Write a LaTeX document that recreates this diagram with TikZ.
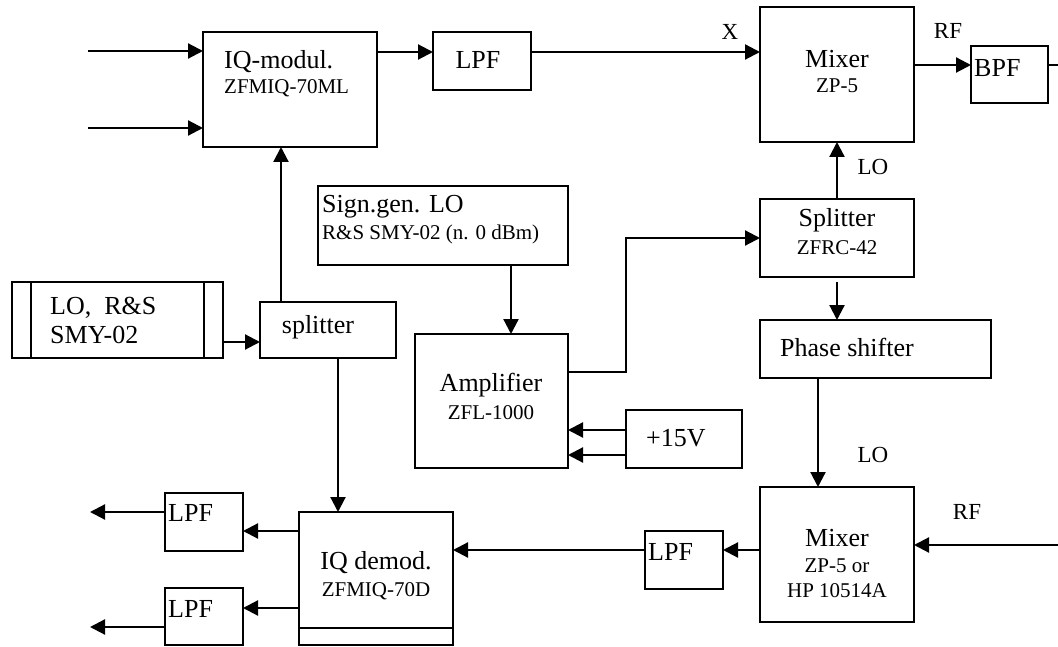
\documentclass[tikz,border=0pt]{standalone}
\usepackage{fontspec}
\setmainfont{Liberation Serif}
\usetikzlibrary{arrows.meta,calc}
\tikzset{
  box/.style={draw,line width=2.2pt,inner sep=0pt,outer sep=0pt},
  arr/.style={line width=2.2pt,-{Triangle[length=15pt,width=15pt]}},
  ln/.style={line width=2.2pt},
  big/.style={font=\fontsize{26}{28}\selectfont,inner sep=0pt},
  lbl/.style={font=\fontsize{23}{25}\selectfont,inner sep=0pt},
  mid/.style={font=\fontsize{21}{23}\selectfont,inner sep=0pt},
}
\newcommand\mybox[5]{\node[box,minimum width={#4-#2},minimum height={#5-#3}] (#1) at ({(#2+#4)/2},{(#3+#5)/2}) {};}
\begin{document}
\begin{tikzpicture}[x=1pt,y=-1pt]
\useasboundingbox (0,0) rectangle (1058,647);
% boxes
\mybox{iqm}{203}{32}{377}{147}
\mybox{lpfa}{433}{32}{531}{90}
\mybox{mixa}{760}{7}{914}{142}
\mybox{bpf}{971}{46}{1048}{103}
\mybox{sig}{318}{186}{568}{265}
\mybox{amp}{415}{334}{568}{468}
\mybox{vps}{626}{410}{742}{468}
\mybox{splb}{760}{199}{914}{277}
\mybox{ph}{760}{320}{991}{378}
\mybox{mixb}{760}{487}{914}{622}
\mybox{lpfc}{645}{531}{723}{589}
\mybox{dem}{299}{512}{453}{645}
\mybox{lpfd}{165}{493}{243}{551}
\mybox{lpfe}{165}{588}{243}{645}
\mybox{lo}{12}{282}{223}{358}
\mybox{spla}{260}{302}{396}{358}
% inner lines
\draw[ln] (lo.north west) ++(19,0) coordinate (loa) -- (loa |- lo.south);
\draw[ln] (lo.north east) ++(-19,0) coordinate (lob) -- (lob |- lo.south);
\draw[ln] (dem.south west) ++(0,-17) coordinate (dma) -- (dma -| dem.east);
% texts
\node[big,anchor=west] at (224,62) {IQ-modul.};
\node[mid,anchor=west] at (224,88) {ZFMIQ-70ML};
\node[big] at (478,60) {LPF};
\node[lbl] at (730,32) {X};
\node[lbl] at (948,31) {RF};
\node[big] at (837,59) {Mixer};
\node[mid] at (837,86) {ZP-5};
\node[big,anchor=west] at (974,68) {BPF};
\node[lbl] at (873,167) {LO};
\node[big,anchor=west] at (322,207) {Sign.gen. LO};
\node[mid,anchor=west] at (322,234) {R\&S SMY-02 (n. 0 dBm)};
\node[big] at (491,385) {Amplifier};
\node[mid] at (491,413) {ZFL-1000};
\node[big,anchor=west] at (646,438) {+15V};
\node[big] at (837,220) {Splitter};
\node[mid] at (837,248) {ZFRC-42};
\node[big,anchor=west] at (780,347) {Phase shifter};
\node[lbl] at (873,455) {LO};
\node[big] at (837,538) {Mixer};
\node[mid] at (837,566) {ZP-5 or};
\node[mid] at (837,591) {HP 10514A};
\node[lbl] at (967,512) {RF};
\node[big,anchor=west] at (648,552) {LPF};
\node[big] at (376,563) {IQ demod.};
\node[mid] at (376,591) {ZFMIQ-70D};
\node[big,anchor=west] at (168,513) {LPF};
\node[big,anchor=west] at (168,609) {LPF};
\node[big,anchor=west] at (50,308) {LO,\ \ R\&S};
\node[big,anchor=west] at (50,335) {SMY-02};
\node[big] at (318,327) {splitter};
% free ends
\coordinate (ia) at (88,51);
\coordinate (ib) at (88,128);
\coordinate (ra) at (0,52);
\coordinate (rb) at (0,65);
\coordinate (oa) at (1058,65);
\coordinate (rfin) at (1058,545);
\coordinate (oc) at (90,512);
\coordinate (od) at (90,627);
% connectors
\draw[arr] (ia) -- (ia -| iqm.west);
\draw[arr] (ib) -- (ib -| iqm.west);
\draw[arr] (iqm.east |- ra) -- (lpfa.west |- ra);
\draw[arr] (lpfa.east |- ra) -- (mixa.west |- ra);
\draw[arr] (mixa.east |- rb) -- (bpf.west |- rb);
\draw[ln] (bpf.east |- oa) -- (oa);
\draw[arr] (splb.north) -- (mixa.south);
\draw[arr] (lo.east |- 0,342) -- (spla.west |- 0,342);
\draw[arr] (spla.north -| 281,0) -- (iqm.south -| 281,0);
\draw[arr] (spla.south -| 338,0) -- (dem.north -| 338,0);
\draw[arr] (sig.south -| 511,0) -- (amp.north -| 511,0);
\draw[arr] (amp.east |- 0,372) -| (626,238) -- (splb.west);
\draw[arr] (vps.west |- 0,430) -- (amp.east |- 0,430);
\draw[arr] (vps.west |- 0,455) -- (amp.east |- 0,455);
\draw[arr] ($(splb.south)+(0,5)$) -- (ph.north -| splb.south);
\draw[arr] (ph.south -| 818,0) -- (mixb.north -| 818,0);
\draw[arr] (rfin) -- (rfin -| mixb.east);
\draw[arr] (mixb.west |- 0,550) -- (lpfc.east |- 0,550);
\draw[arr] (lpfc.west |- 0,550) -- (dem.east |- 0,550);
\draw[arr] (dem.west |- 0,531) -- (lpfd.east |- 0,531);
\draw[arr] (dem.west |- 0,608) -- (lpfe.east |- 0,608);
\draw[arr] (lpfd.west |- oc) -- (oc);
\draw[arr] (lpfe.west |- od) -- (od);
\end{tikzpicture}
\end{document}
